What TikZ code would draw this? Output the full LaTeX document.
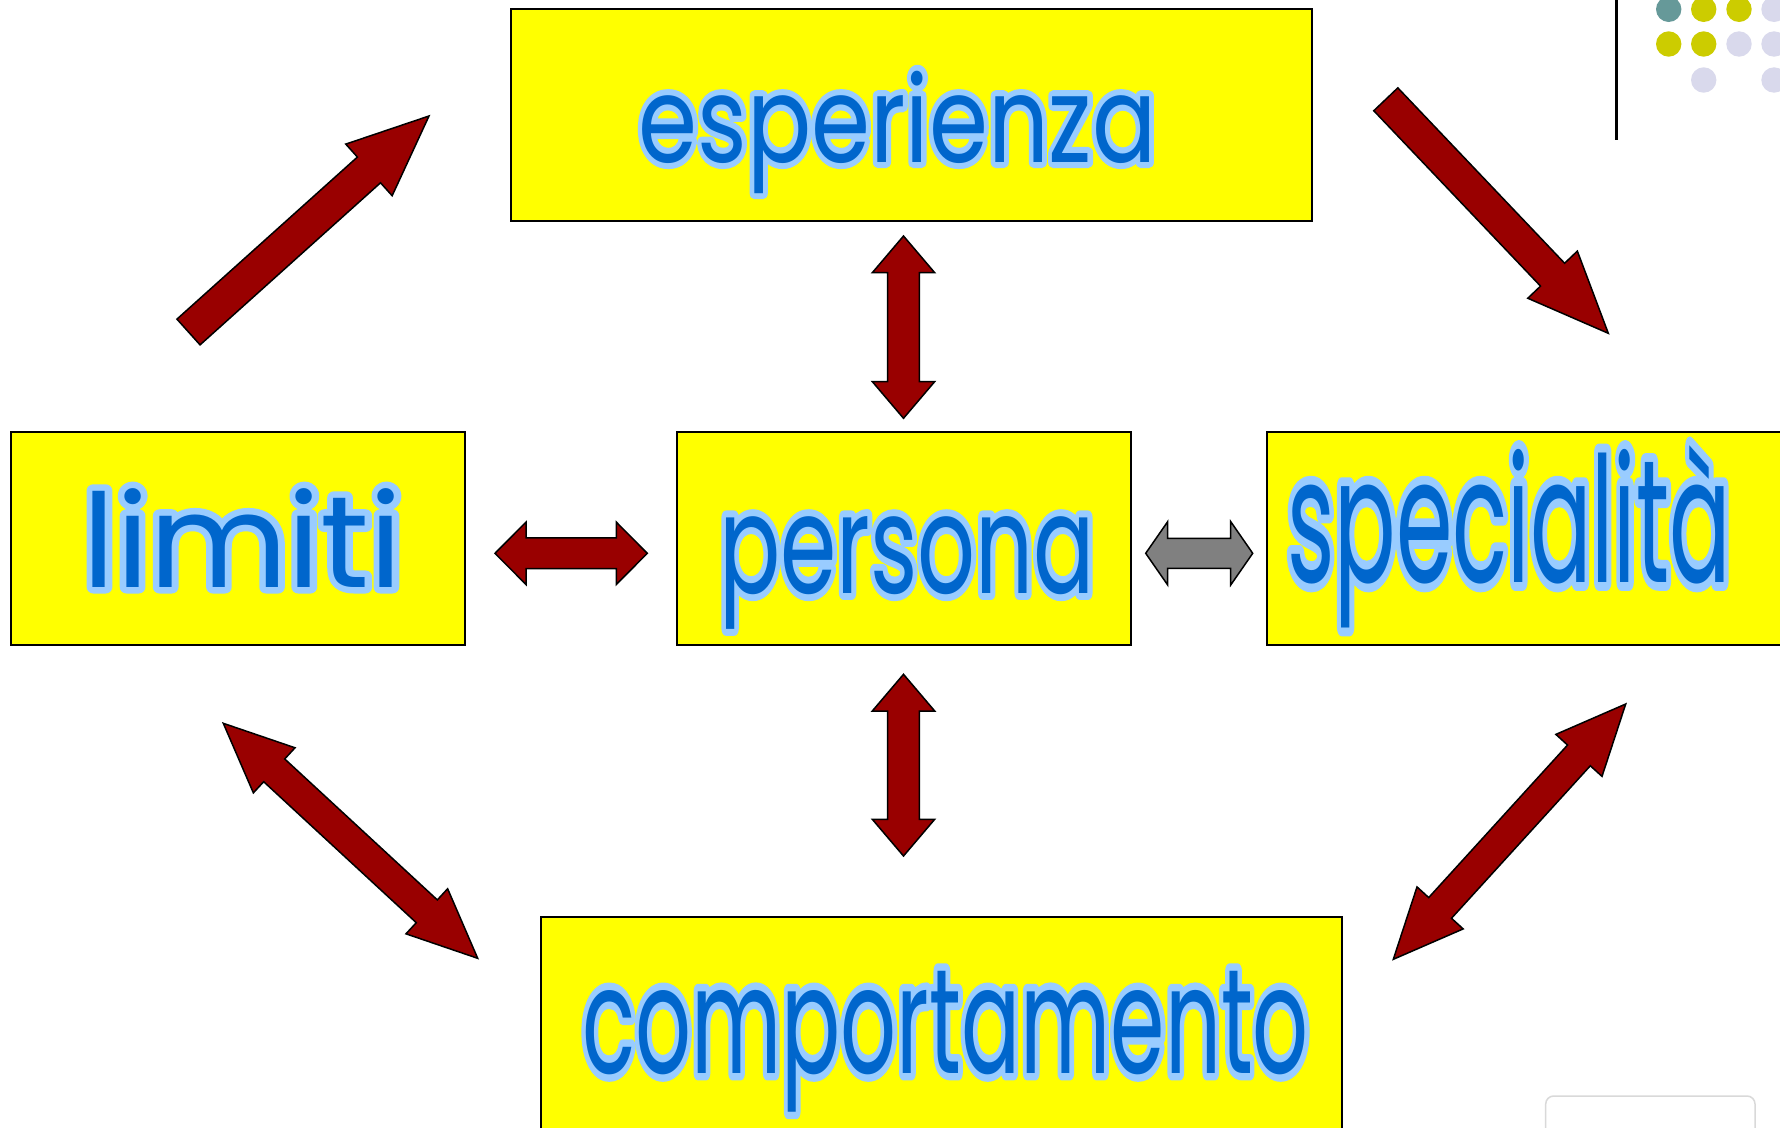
\documentclass[tikz,border=0pt]{standalone}
\usepackage{fontspec}
\usetikzlibrary{calc}
\setmainfont{Poppins}
\newfontfamily\outfont[FakeBold=10]{Poppins}
\definecolor{tblue}{HTML}{0066CC}
\definecolor{lblue}{HTML}{99CCFF}
\definecolor{boxyellow}{HTML}{FFFF00}
\definecolor{darkred}{HTML}{990000}
\definecolor{dotteal}{HTML}{669999}
\definecolor{dotolive}{HTML}{CCCC00}
\definecolor{dotlav}{HTML}{D9D9EC}
\tikzset{
  box/.style={draw=black, line width=2pt, fill=boxyellow, rectangle, inner sep=0pt},
  redarrow/.style={draw=black, line width=1.5pt, fill=darkred, line join=miter},
  grayarrow/.style={draw=black, line width=1.5pt, fill=gray, line join=miter},
  dot/.style={circle, inner sep=0pt, minimum size=25.4pt}
}
% double-headed block arrow: #1 tip A, #2 tip B, #3 shaft half width, #4 head half width, #5 head length, #6 style
\newcommand\dblarrow[6]{%
  \path ($(#1)!#5!(#2)$) coordinate (ha) ($(#2)!#5!(#1)$) coordinate (hb);
  \draw[#6] (#1) -- ($(ha)!#4!90:(#1)$) -- ($(ha)!#3!90:(#1)$) -- ($(hb)!#3!-90:(#2)$) -- ($(hb)!#4!-90:(#2)$) -- (#2) -- ($(hb)!#4!90:(#2)$) -- ($(hb)!#3!90:(#2)$) -- ($(ha)!#3!-90:(#1)$) -- ($(ha)!#4!-90:(#1)$) -- cycle;}
% single-headed block arrow: #1 tail, #2 tip
\newcommand\sglarrow[6]{%
  \path ($(#2)!#5!(#1)$) coordinate (hb);
  \draw[#6] ($(#1)!#3!90:(#2)$) -- ($(hb)!#3!90:(#2)$) -- ($(hb)!#4!90:(#2)$) -- (#2) -- ($(hb)!#4!-90:(#2)$) -- ($(hb)!#3!-90:(#2)$) -- ($(#1)!#3!-90:(#2)$) -- cycle;}
% outlined word: #1 name, #2 base position, #3 font size, #4 width, #5 text
\newcommand\word[5]{%
  \node[anchor=base, inner sep=0pt, line join=round, line cap=round, text=lblue, font={\outfont\fontsize{#3}{#3}\selectfont}] at (#2) {\resizebox{#4}{\height}{#5}};
  \node[anchor=base, inner sep=0pt, text=tblue, font={\fontsize{#3}{#3}\selectfont}] (#1) at (#2) {\resizebox{#4}{\height}{#5}};}
\begin{document}
\begin{tikzpicture}[x=1pt, y=-1pt]
\clip (0,0) rectangle (1780,1127);
\fill[white] (0,0) rectangle (1780,1127);
% boxes
\node[box, minimum width=801pt, minimum height=212pt] (esp) at (911.5,115) {};
\node[box, minimum width=454pt, minimum height=213pt] (lim) at (238,538.5) {};
\node[box, minimum width=454pt, minimum height=213pt] (per) at (904,538.5) {};
\node[box, minimum width=533pt, minimum height=213pt] (spe) at (1533.5,538.5) {};
\node[box, minimum width=801pt, minimum height=233pt] (com) at (941.5,1033.5) {};
% words
\word{tesp}{897.5,162}{120pt}{518pt}{esperienza}
\word{tlim}{243,587}{130pt}{320pt}{limiti}
\word{tper}{907,593}{138pt}{376pt}{persona}
\word{tspe}{1509,582}{175pt}{444pt}{specialità}
\word{tcom}{945.5,1073}{149pt}{727pt}{comportamento}
% arrow end points
\coordinate (a1s) at (188.5,332);  \coordinate (a1e) at (429,116);
\coordinate (a2s) at (1385.8,99.3); \coordinate (a2e) at (1608.3,333.3);
\coordinate (a3s) at (903.5,236);  \coordinate (a3e) at (903.5,418.3);
\coordinate (a4s) at (495,553.3);  \coordinate (a4e) at (647.3,553.3);
\coordinate (a5s) at (1145.7,553.3); \coordinate (a5e) at (1252.7,553.3);
\coordinate (a6s) at (903.5,674.3); \coordinate (a6e) at (903.5,856);
\coordinate (a7s) at (223.3,723.3); \coordinate (a7e) at (477.7,958.3);
\coordinate (a8s) at (1625.7,704);  \coordinate (a8e) at (1393.3,959.3);
% arrows
\sglarrow{a1s}{a1e}{17.3pt}{34.7pt}{80.7pt}{redarrow}
\sglarrow{a2s}{a2e}{16.6pt}{34.2pt}{80.9pt}{redarrow}
\dblarrow{a3s}{a3e}{15.8pt}{31.2pt}{36.7pt}{redarrow}
\dblarrow{a4s}{a4e}{15.4pt}{31.2pt}{31pt}{redarrow}
\dblarrow{a5s}{a5e}{15pt}{31.7pt}{22pt}{grayarrow}
\dblarrow{a6s}{a6e}{15.8pt}{31.2pt}{36.7pt}{redarrow}
\dblarrow{a7s}{a7e}{15.5pt}{30.7pt}{69.3pt}{redarrow}
\dblarrow{a8s}{a8e}{15.4pt}{31.2pt}{69.5pt}{redarrow}
% top-right decoration
\coordinate (vl1) at (1616,0); \coordinate (vl2) at (1616,140);
\draw[line width=3pt] (vl1) -- (vl2);
\node[dot, fill=dotteal]  (d11) at (1668.7,9.3) {};
\node[dot, fill=dotolive] (d12) at (1703.7,9.3) {};
\node[dot, fill=dotolive] (d13) at (1739,9.3) {};
\node[dot, fill=dotlav]   (d14) at (1774,9.3) {};
\node[dot, fill=dotolive] (d21) at (1668.7,44) {};
\node[dot, fill=dotolive] (d22) at (1703.7,44) {};
\node[dot, fill=dotlav]   (d23) at (1739,44) {};
\node[dot, fill=dotlav]   (d24) at (1774,44) {};
\node[dot, fill=dotlav]   (d32) at (1703.7,80) {};
\node[dot, fill=dotlav]   (d34) at (1774,80) {};
% bottom-right partial label box
\draw[draw=black!15, line width=1.5pt, fill=white, rounded corners=8pt] (1545.7,1096) rectangle (1755,1150);
\end{tikzpicture}
\end{document}
